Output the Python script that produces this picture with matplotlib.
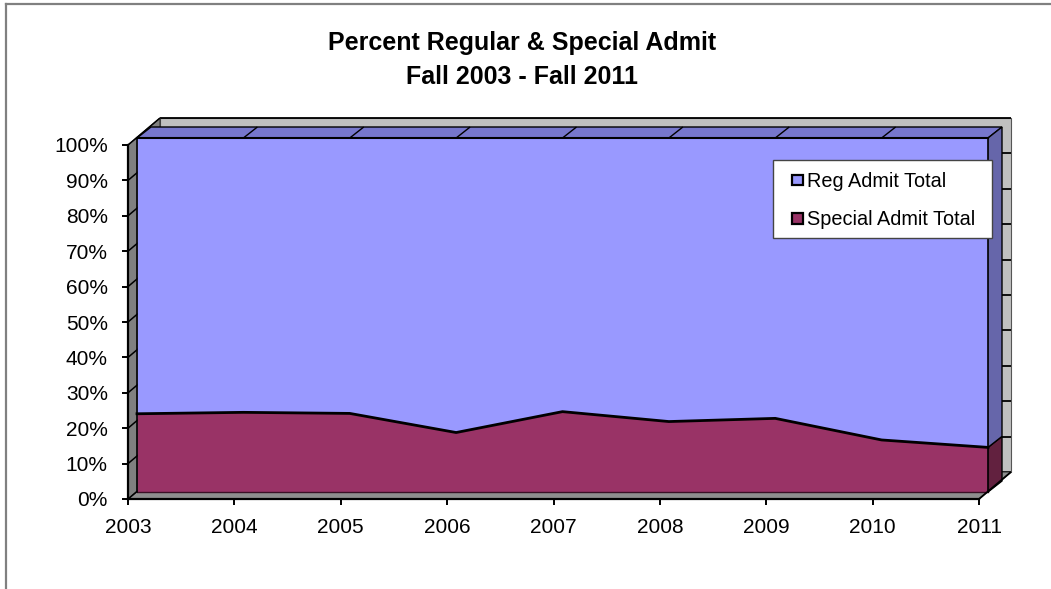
import numpy as np
import matplotlib
matplotlib.use("Agg")
import matplotlib.pyplot as plt
from matplotlib.patches import Polygon, Patch, Rectangle
from matplotlib.lines import Line2D
from matplotlib.legend_handler import HandlerPatch

# ---- data -------------------------------------------------------------
years = [2003, 2004, 2005, 2006, 2007, 2008, 2009, 2010, 2011]
reg_admit_pct = [77.9, 77.5, 77.8, 83.2, 77.3, 80.1, 79.2, 85.3, 87.4]
special_admit_pct = [22.1, 22.5, 22.2, 16.8, 22.7, 19.9, 20.8, 14.7, 12.6]
series_names = ["Reg Admit Total", "Special Admit Total"]
y_ticks = [0, 10, 20, 30, 40, 50, 60, 70, 80, 90, 100]
y_tick_labels = [f"{t}%" for t in y_ticks]
title_text = "Percent Regular & Special Admit\nFall 2003 - Fall 2011"

# ---- style ------------------------------------------------------------
plt.rcParams["font.family"] = ["Liberation Sans", "DejaVu Sans"]
REG_FRONT, REG_TOP, REG_SIDE = "#9999FF", "#7777CC", "#6666AA"
SPC_FRONT, SPC_SIDE = "#993366", "#62213F"
WALL_BACK, WALL_LEFT, FLOOR = "#C0C0C0", "#808080", "#8E8E8E"

W, H, DPI = 1051, 589, 100
fig = plt.figure(figsize=(W / DPI, H / DPI), dpi=DPI)
ax = fig.add_axes([128 / W, 90 / H, 851 / W, 354 / H])
ax.set_xlim(years[0], years[-1])
ax.set_ylim(0, 100)
ax.patch.set_visible(False)

# depth planes of the pseudo-3D box, as screen offsets in pixels
FRONT = (9, 7)     # front face of the area series
BACK = (23, 18)    # back face of the area series
WALL = (32, 27)    # back wall


def shifted(xs, ys, off):
    """Data points pushed back in depth by a fixed screen offset."""
    pts = ax.transData.transform(np.column_stack([np.atleast_1d(xs), np.atleast_1d(ys)]).astype(float))
    return ax.transData.inverted().transform(pts + np.asarray(off, float))


def quad(x0, y0, x1, y1, off_a, off_b, **kw):
    """Face spanning segment (x0,y0)-(x1,y1) between two depth planes."""
    pts = np.vstack([shifted([x0, x1], [y0, y1], off_a),
                     shifted([x1, x0], [y1, y0], off_b)])
    ax.add_patch(Polygon(pts, closed=True, clip_on=False, **kw))


def seg(x0, y0, off_a, x1, y1, off_b, **kw):
    p = np.vstack([shifted(x0, y0, off_a), shifted(x1, y1, off_b)])
    ax.plot(p[:, 0], p[:, 1], clip_on=False, solid_capstyle="butt", **kw)


x0, x1 = years[0], years[-1]

# back wall with its gridlines
wall = shifted([x0, x1, x1, x0], [0, 0, 100, 100], WALL)
ax.add_patch(Polygon(wall, closed=True, fc=WALL_BACK, ec="#555555", lw=0.8,
                     clip_on=False, zorder=1))
for t in y_ticks:
    seg(x0, t, WALL, x1, t, WALL, color="black", lw=1.3, zorder=1.1)

# floor and left wall
quad(x0, 0, x1, 0, (0, 0), WALL, fc=FLOOR, ec="#333333", lw=0.8, zorder=1.2)
quad(x0, 0, x0, 100, (0, 0), WALL, fc=WALL_LEFT, ec="#333333", lw=0.8, zorder=1.3)
for t in y_ticks:
    seg(x0, t, (0, 0), x0, t, WALL, color="black", lw=1.1, zorder=1.4)

# top face of the stack and the right-hand side faces
quad(x0, 100, x1, 100, FRONT, BACK, fc=REG_TOP, ec="black", lw=1.0, zorder=2)
for yr in years[1:-1]:
    seg(yr, 100, FRONT, yr, 100, BACK, color="black", lw=1.0, zorder=2.1)
quad(x1, 0, x1, special_admit_pct[-1], FRONT, BACK, fc=SPC_SIDE, ec="black",
     lw=1.0, zorder=2)
quad(x1, special_admit_pct[-1], x1, special_admit_pct[-1] + reg_admit_pct[-1],
     FRONT, BACK, fc=REG_SIDE, ec="black", lw=1.0, zorder=2)

# front faces (100% stacked areas)
n = len(years)
base = shifted(years, [0] * n, FRONT)
mid = shifted(years, special_admit_pct, FRONT)
top = shifted(years, np.add(special_admit_pct, reg_admit_pct), FRONT)
xf = base[:, 0]
ax.fill_between(xf, base[:, 1], mid[:, 1], color=SPC_FRONT, lw=0, clip_on=False, zorder=3)
ax.fill_between(xf, mid[:, 1], top[:, 1], color=REG_FRONT, lw=0, clip_on=False, zorder=3)
ax.plot(xf, mid[:, 1], color="black", lw=2.0, clip_on=False, zorder=3.2)
ax.plot(xf, top[:, 1], color="black", lw=1.5, clip_on=False, zorder=3.2)
ax.plot(xf, base[:, 1], color="#3a1025", lw=1.0, clip_on=False, zorder=3.2)
ax.plot([xf[0], xf[0]], [base[0, 1], top[0, 1]], color="black", lw=1.2, clip_on=False, zorder=3.2)
ax.plot([xf[-1], xf[-1]], [base[-1, 1], top[-1, 1]], color="black", lw=1.2, clip_on=False, zorder=3.2)

# floor's right edge
seg(x1, 0, (0, 0), x1, 0, WALL, color="black", lw=1.3, zorder=3.3)

# axes
for s in ("top", "right"):
    ax.spines[s].set_visible(False)
for s in ("left", "bottom"):
    ax.spines[s].set_color("black")
    ax.spines[s].set_linewidth(1.6)
    ax.spines[s].set_zorder(4)
ax.set_xticks(years)
ax.set_xticklabels([str(y) for y in years])
ax.set_yticks(y_ticks)
ax.set_yticklabels(y_tick_labels)
ax.tick_params(axis="y", direction="out", length=4.5, width=1.4, pad=10, labelsize=15)
ax.tick_params(axis="x", direction="out", length=4, width=1.4, pad=9.5, labelsize=15)

# title
fig.text(522 / W, 1 - 60 / H, title_text, ha="center", va="center",
         fontsize=18, fontweight="bold", linespacing=1.5)

# legend: box drawn separately, entries placed inside it
lx0, ly0, lx1, ly1 = 773, 160, 992, 238
fig.add_artist(Rectangle((lx0 / W, 1 - ly1 / H), (lx1 - lx0) / W, (ly1 - ly0) / H,
                         transform=fig.transFigure, fc="white", ec="#444444",
                         lw=1.0, zorder=5))


def square_patch(legend, orig_handle, xdescent, ydescent, width, height, fontsize):
    side = 7.8
    return Rectangle((-xdescent + width - side, -ydescent + (height - side) / 2),
                     side, side)


handles = [Patch(fc=REG_FRONT, ec="black", lw=1.6),
           Patch(fc=SPC_FRONT, ec="black", lw=1.6)]
leg = fig.legend(handles, series_names, loc="upper left",
                 bbox_to_anchor=(lx0 / W, 1 - (ly0 + 2) / H), bbox_transform=fig.transFigure,
                 fontsize=14.3, frameon=False, handlelength=1.0,
                 handleheight=0.6, handletextpad=0.2, borderpad=0.5,
                 labelspacing=0.98, borderaxespad=0,
                 handler_map={Patch: HandlerPatch(patch_func=square_patch)})
leg.set_zorder(6)

# outer chart border (top and left edges)
fig.add_artist(Line2D([6 / W, 6 / W], [0, 1 - 4 / H], color="#808080", lw=1.6,
                      transform=fig.transFigure))
fig.add_artist(Line2D([6 / W, 1], [1 - 4 / H, 1 - 4 / H], color="#808080", lw=1.6,
                      transform=fig.transFigure))

fig.savefig("out.png", dpi=DPI)
